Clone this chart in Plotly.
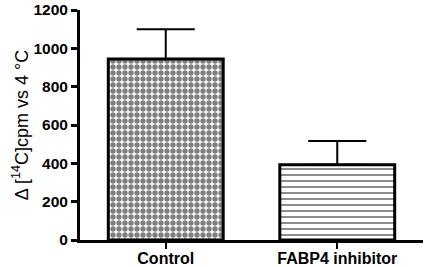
import plotly.graph_objects as go

categories = ["Control", "FABP4 inhibitor"]
means = [944, 392]
sem = [156, 124]
patterns = [".", "-"]
y_ticks = [0, 200, 400, 600, 800, 1000, 1200]

fig = go.Figure()
for i, cat in enumerate(categories):
    fig.add_trace(go.Bar(
        x=[cat], y=[means[i]], width=0.67,
        marker=dict(
            color="white",
            line=dict(color="black", width=3),
            pattern=dict(shape=patterns[i], fgcolor="black", bgcolor="white",
                         size=6,
                         solidity=0.62 if patterns[i] == "." else 0.3,
                         fillmode="overlay"),
        ),
        error_y=dict(type="data", array=[sem[i]], arrayminus=[0], symmetric=False,
                     color="black", thickness=2, width=29),
        showlegend=False,
        hoverinfo="skip",
    ))

fig.update_layout(
    width=427, height=267,
    margin=dict(l=80, r=4, t=10, b=27),
    plot_bgcolor="white", paper_bgcolor="white",
    font=dict(family="Liberation Sans, Arial, sans-serif", color="black"),
    xaxis=dict(
        range=[-0.5, 1.5], showline=True, linecolor="black", linewidth=3,
        ticks="outside", ticklen=6, tickwidth=2, tickcolor="black",
        ticklabelstandoff=-4,
        tickfont=dict(size=16, family="Liberation Sans, Arial, sans-serif", weight=700),
        showgrid=False, zeroline=False, automargin=False,
    ),
    yaxis=dict(
        range=[0, 1200], tickvals=y_ticks, showline=True, linecolor="black", linewidth=3,
        ticks="outside", ticklen=6, tickwidth=3, tickcolor="black",
        tickfont=dict(size=15.5, family="Liberation Sans, Arial, sans-serif", weight=700),
        showgrid=False, zeroline=False,
        title=dict(text="Δ [<sup>14</sup>C]cpm vs 4 °C", standoff=1,
                   font=dict(size=18, family="Liberation Sans, Arial, sans-serif")),
        automargin=False,
    ),
)

fig.write_html("out.html", config={"displayModeBar": False},
               post_script="document.body.style.margin='0';")
